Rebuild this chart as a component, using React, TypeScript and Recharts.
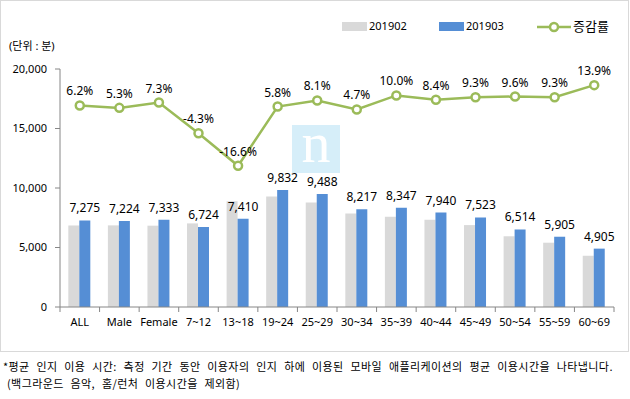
import { ComposedChart, Bar, Line, XAxis, YAxis, LabelList } from 'recharts'

const categories = ['ALL', 'Male', 'Female', '7~12', '13~18', '19~24', '25~29', '30~34', '35~39', '40~44', '45~49', '50~54', '55~59', '60~69']
const feb2019 = [6850, 6860, 6834, 7026, 8885, 9293, 8777, 7848, 7588, 7325, 6883, 5944, 5403, 4306]
const mar2019 = [7275, 7224, 7333, 6724, 7410, 9832, 9488, 8217, 8347, 7940, 7523, 6514, 5905, 4905]
const changeRate = [6.2, 5.3, 7.3, -4.3, -16.6, 5.8, 8.1, 4.7, 10.0, 8.4, 9.3, 9.6, 9.3, 13.9]
const yTicks = [0, 5000, 10000, 15000, 20000]

const data = categories.map((name, i) => ({
  name,
  feb: feb2019[i],
  mar: mar2019[i],
  rate: changeRate[i],
}))

const W = 630
const H = 352
const LEFT = 60
const RIGHT = 16
const band = (W - LEFT - RIGHT) / categories.length

const gray = '#D9D9D9'
const blue = '#558ED5'
const green = '#9BBB59'
const axisColor = '#868686'

function XTick(props: any) {
  const { x, y, payload, index } = props
  const half = band / 2
  return (
    <g>
      <line x1={x - half} x2={x - half} y1={y - 9} y2={y - 4} stroke={axisColor} />
      {index === categories.length - 1 && (
        <line x1={x + half} x2={x + half} y1={y - 9} y2={y - 4} stroke={axisColor} />
      )}
      <text x={x} y={y} dy={10} textAnchor="middle" fontSize={11} fill="#000">
        {payload.value}
      </text>
    </g>
  )
}

function LegendBox() {
  const txt = { position: 'absolute' as const, fontSize: 11, color: '#000', lineHeight: '14px' }
  return (
    <div style={{ position: 'absolute', left: 340, top: 19, width: 280, height: 16 }}>
      <span style={{ position: 'absolute', left: 2, top: 3, width: 25, height: 9, background: gray }} />
      <span style={{ ...txt, left: 29, top: 0 }}>201902</span>
      <span style={{ position: 'absolute', left: 99, top: 3, width: 25, height: 9, background: blue }} />
      <span style={{ ...txt, left: 126, top: 0 }}>201903</span>
      <svg style={{ position: 'absolute', left: 197, top: 0 }} width={34} height={16}>
        <line x1={0} x2={34} y1={8} y2={8} stroke={green} strokeWidth={2.5} />
        <circle cx={17} cy={8} r={4} fill="#fff" stroke={green} strokeWidth={2.5} />
      </svg>
      <span style={{ ...txt, left: 233, top: -2, fontSize: 13, lineHeight: '18px' }}>증감률</span>
    </div>
  )
}

export default function App() {
  return (
    <div
      style={{
        position: 'absolute',
        left: 0,
        top: 0,
        width: W,
        height: 399,
        background: '#fff',
        fontFamily: "'Noto Sans', 'Noto Sans CJK KR', sans-serif",
      }}
    >
      <div
        style={{
          position: 'absolute',
          left: 0,
          top: 0,
          width: W - 1,
          height: H,
          border: '1px solid #D9D9D9',
          boxSizing: 'border-box',
        }}
      />
      <LegendBox />
      <div style={{ position: 'absolute', left: 9, top: 37, fontSize: 11, color: '#000' }}>(단위 : 분)</div>
      <div
        style={{
          position: 'absolute',
          left: 292,
          top: 125,
          width: 48,
          height: 48,
          background: '#D6EEF9',
          color: '#fff',
          fontFamily: "'Liberation Serif', serif",
          fontSize: 58,
          lineHeight: '36px',
          textAlign: 'center',
        }}
      >
        n
      </div>
      <div style={{ position: 'absolute', left: 0, top: 0 }}>
        <ComposedChart
          width={W}
          height={H}
          data={data}
          margin={{ top: 69, right: RIGHT, bottom: 15, left: 0 }}
          barCategoryGap="21%"
          barGap={0}
        >
          <XAxis
            dataKey="name"
            interval={0}
            height={30}
            stroke={axisColor}
            tickLine={false}
            tickSize={5}
            tickMargin={4}
            tick={<XTick />}
          />
          <YAxis
            yAxisId="min"
            width={60}
            domain={[0, 20000]}
            ticks={yTicks}
            stroke={axisColor}
            tickSize={5}
            tickMargin={8}
            tick={{ fill: '#000', fontSize: 11 }}
            tickFormatter={(v: number) => v.toLocaleString('en-US')}
          />
          <YAxis yAxisId="rate" orientation="right" hide domain={[-70, 20]} />
          <Bar yAxisId="min" dataKey="feb" name="201902" fill={gray} isAnimationActive={false} />
          <Bar yAxisId="min" dataKey="mar" name="201903" fill={blue} isAnimationActive={false}>
            <LabelList
              dataKey="mar"
              position="top"
              offset={8}
              fontSize={12}
              fill="#000"
              formatter={(v: any) => Number(v).toLocaleString('en-US')}
            />
          </Bar>
          <Line
            yAxisId="rate"
            dataKey="rate"
            name="증감률"
            stroke={green}
            strokeWidth={2.5}
            dot={{ r: 4, fill: '#fff', stroke: green, strokeWidth: 2.5 }}
            isAnimationActive={false}
          >
            <LabelList
              dataKey="rate"
              position="top"
              offset={10}
              fontSize={12}
              fill="#000"
              formatter={(v: any) => Number(v).toFixed(1) + '%'}
            />
          </Line>
        </ComposedChart>
      </div>
      <div
        style={{
          position: 'absolute',
          left: 3,
          top: 358,
          fontSize: 11,
          lineHeight: '17px',
          color: '#000',
          fontFamily: "'Noto Sans CJK KR', sans-serif",
          letterSpacing: 0.4,
          wordSpacing: 4,
          whiteSpace: 'nowrap',
        }}
      >
        <div>*평균 인지 이용 시간: 측정 기간 동안 이용자의 인지 하에 이용된 모바일 애플리케이션의 평균 이용시간을 나타냅니다.</div>
        <div style={{ paddingLeft: 4 }}>(백그라운드 음악, 홈/런처 이용시간을 제외함)</div>
      </div>
    </div>
  )
}
